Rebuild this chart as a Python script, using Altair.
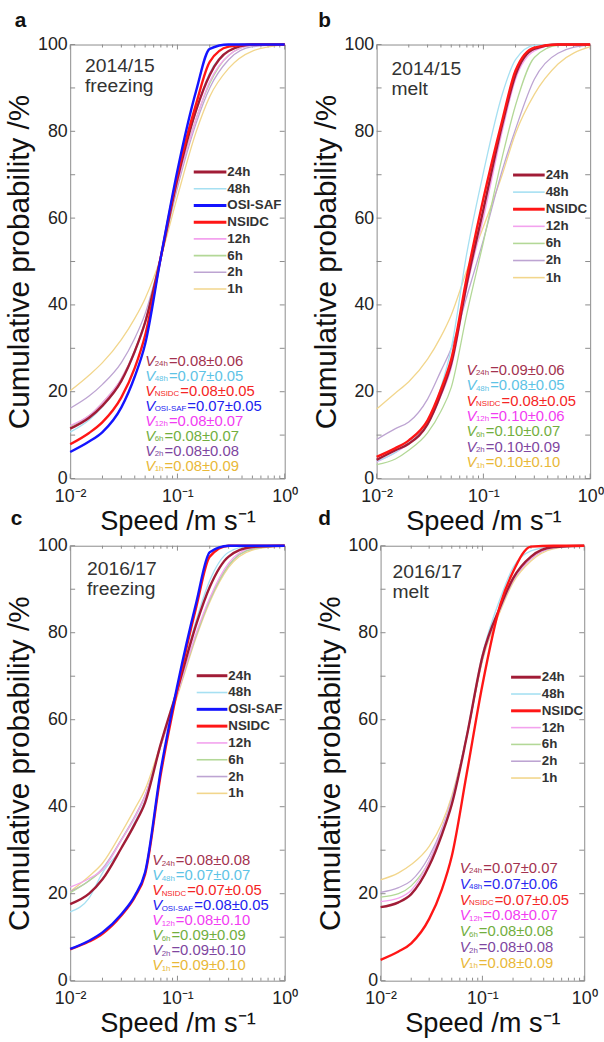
import altair as alt
import pandas as pd

FONT = "Liberation Sans"
TICK = "#8c8c8c"

speeds = [0.01, 0.015, 0.02, 0.03, 0.04, 0.05, 0.07, 0.1, 0.15, 0.2, 0.3, 0.5, 1.0]

# ---- panel a: 2014/15 freezing
a_24h = [11.5, 14.0, 16.8, 22.5, 29.3, 36.0, 51, 69, 85, 93, 98.5, 100, 100]
a_48h = [10.7, 13.5, 16.5, 22.5, 29.0, 35.8, 51, 69, 85, 93.5, 98.5, 100, 100]
a_osi = [6.1, 8.5, 10.7, 16.4, 23.5, 31.0, 51, 71, 89.5, 99, 100, 100, 100]
a_nsidc = [7.9, 10.5, 13.0, 18.7, 25.5, 33.0, 51, 70, 86.5, 96, 99.5, 100, 100]
a_12h = [12.2, 14.5, 17.5, 23.0, 29.5, 36.2, 51, 68, 83, 91.5, 97.5, 99.8, 100]
a_6h = [12.0, 14.5, 17.5, 23.0, 29.5, 36.2, 51, 68, 83, 91, 97.5, 99.8, 100]
a_2h = [16.2, 19.0, 21.7, 26.7, 32.3, 38.0, 51, 67, 82, 90, 96.5, 99.5, 100]
a_1h = [20.2, 23.8, 26.7, 32.0, 36.9, 41.5, 51, 65, 80, 88, 94.5, 98.5, 100]
a_stats = ["0.08±0.06", "0.07±0.05", "0.08±0.05", "0.07±0.05",
           "0.08±0.07", "0.08±0.07", "0.08±0.08", "0.08±0.09"]

# ---- panel b: 2014/15 melt
b_24h = [4.3, 6.5, 8.0, 12.5, 19.5, 26.5, 45, 62, 81.5, 93, 99, 100, 100]
b_48h = [4.0, 6.0, 8.5, 13.0, 21.0, 30.0, 52, 70.5, 88.5, 96.5, 99.8, 100, 100]
b_nsidc = [5.0, 7.0, 8.8, 13.4, 20.5, 27.5, 46.5, 64.5, 82.5, 94, 99.3, 100, 100]
b_12h = [3.8, 6.0, 8.0, 12.5, 19.0, 25.5, 44, 60, 80, 92, 98.5, 100, 100]
b_6h = [3.2, 4.5, 6.5, 10.5, 15.5, 21.0, 38, 54.5, 74, 86, 97, 99.8, 100]
b_2h = [9.0, 11.5, 13.0, 18.3, 24.8, 30.0, 42, 55, 71, 80.5, 92, 98, 100]
b_1h = [16.0, 19.7, 22.3, 27.5, 32.7, 37.7, 48, 58, 70, 79.5, 88.5, 95.5, 99.5]
b_stats = ["0.09±0.06", "0.08±0.05", "0.08±0.05", "0.10±0.06",
           "0.10±0.07", "0.10±0.09", "0.10±0.10"]

# ---- panel c: 2016/17 freezing
c_24h = [17.6, 20.0, 23.3, 30.5, 36.0, 41.0, 54.5, 67, 82, 90.5, 97.5, 99.7, 100]
c_48h = [15.8, 19.0, 24.8, 30.5, 36.5, 41.5, 54.5, 67, 83, 92, 98.5, 100, 100]
c_osi = [7.3, 9.2, 11.1, 15.3, 19.5, 25.0, 48.5, 68, 87, 98.5, 100, 100, 100]
c_nsidc = [7.2, 9.0, 10.8, 15.0, 19.2, 24.5, 47.5, 67, 86, 97.5, 100, 100, 100]
c_12h = [21.5, 23.5, 25.5, 32.3, 37.5, 42.5, 54, 66, 80, 88, 96, 99.5, 100]
c_6h = [20.2, 23.0, 25.5, 32.3, 37.5, 42.5, 54, 66, 79.5, 87.5, 95.5, 99.3, 100]
c_2h = [20.5, 23.0, 25.8, 32.5, 37.8, 42.7, 54, 66, 79.5, 87.5, 95.5, 99.3, 100]
c_1h = [20.5, 24.0, 27.0, 34.0, 39.5, 44.0, 54.5, 65.5, 79, 87, 95, 99, 100]
c_stats = ["0.08±0.08", "0.07±0.07", "0.07±0.05", "0.08±0.05",
           "0.08±0.10", "0.09±0.09", "0.09±0.10", "0.09±0.10"]

# ---- panel d: 2016/17 melt
d_24h = [16.9, 18.0, 19.9, 26.4, 33.6, 40.5, 56, 74.5, 86, 92.5, 97.5, 99.7, 100]
d_48h = [16.9, 18.0, 20.0, 26.5, 34.0, 41.0, 56.5, 75, 88, 95, 98.8, 99.8, 100]
d_nsidc = [4.8, 6.7, 8.6, 14.2, 21.0, 28.6, 47.5, 68, 86.5, 94, 99.8, 100, 100]
d_12h = [18.2, 19.0, 20.8, 27.5, 34.7, 41.5, 56, 74, 85.5, 92, 97, 99.5, 100]
d_6h = [19.2, 20.0, 21.8, 27.5, 34.7, 41.5, 56, 74, 85.5, 92, 97, 99.5, 100]
d_2h = [20.3, 21.4, 23.0, 28.6, 35.0, 41.8, 56, 74, 85.5, 92, 97, 99.5, 100]
d_1h = [23.2, 24.8, 26.7, 30.9, 36.2, 42.5, 56, 73.5, 85, 91.5, 96.5, 99.3, 100]
d_stats = ["0.07±0.07", "0.07±0.06", "0.07±0.05", "0.08±0.07",
           "0.08±0.08", "0.08±0.08", "0.08±0.09"]

legend_full = ["24h", "48h", "OSI-SAF", "NSIDC", "12h", "6h", "2h", "1h"]
legend_short = ["24h", "48h", "NSIDC", "12h", "6h", "2h", "1h"]
stat_full = ["24h", "48h", "NSIDC", "OSI-SAF", "12h", "6h", "2h", "1h"]
stat_short = ["24h", "48h", "NSIDC", "12h", "6h", "2h", "1h"]

x_major = [0.01, 0.1, 1.0]
x_minor = [k * 10.0 ** e for e in (-2, -1) for k in range(2, 10)]
y_ticks = list(range(0, 101, 10))
y_labels = [0, 20, 40, 60, 80, 100]

line_color = {"24h": "#A11C36", "48h": "#A6E0F2", "OSI-SAF": "#1414FF",
              "NSIDC": "#FF1616", "12h": "#F3A2EE", "6h": "#B3D897",
              "2h": "#BDA4D2", "1h": "#F2D68C"}
line_width = {"24h": 2.4, "48h": 1.3, "OSI-SAF": 2.4, "NSIDC": 2.4,
              "12h": 1.3, "6h": 1.3, "2h": 1.3, "1h": 1.3}
text_color = {"24h": "#A3324F", "48h": "#5EC3E6", "NSIDC": "#F52525",
              "OSI-SAF": "#2222F0", "12h": "#F23CF2", "6h": "#72AE3E",
              "2h": "#7E46A0", "1h": "#E9B838"}
draw_order = ["1h", "2h", "6h", "12h", "48h", "24h", "NSIDC", "OSI-SAF"]

char_w = {"0": .556, "1": .556, "2": .556, "4": .556, "6": .556, "8": .556,
          "h": .556, "N": .722, "S": .667, "I": .278, "D": .722, "C": .722,
          "O": .778, "-": .333, "A": .667, "F": .611}

dummy = pd.DataFrame({"k": [0]})

XS = alt.Scale(type="log", domain=[0.01, 1], nice=False)
YS = alt.Scale(domain=[0, 100], nice=False)


def X():
    return alt.X("speed:Q", scale=XS, axis=alt.Axis(
        values=x_major, ticks=False, grid=False, domain=False,
        labelExpr="datum.value < 0.05 ? '10⁻²' : (datum.value < 0.5 ? '10⁻¹' : '10⁰')",
        labelFlush=False, labelOverlap=False, labelPadding=9.5,
        title="Speed /m s⁻¹", titlePadding=2, titleFontSize=27.5))


def Y():
    return alt.Y("cum:Q", scale=YS, axis=alt.Axis(
        values=y_labels, ticks=False, grid=False, domain=False,
        labelPadding=3, title="Cumulative probability /%",
        titlePadding=3, titleFontSize=30))


def panel(series, season, leg_names, stat_names, stats, geo, tcol, letters):
    W, H = geo["W"], geo["H"]
    layers = []
    # inward ticks
    yt = pd.DataFrame({"cum": y_ticks})
    layers.append(alt.Chart(yt).mark_rule(color=TICK, strokeWidth=1).encode(
        y=Y(), x=alt.value(0), x2=alt.value(5)))
    layers.append(alt.Chart(yt).mark_rule(color=TICK, strokeWidth=1).encode(
        y=Y(), x=alt.value(W - 5), x2=alt.value(W)))
    for vals, ln in ((x_major, 5), (x_minor, 3)):
        xt = pd.DataFrame({"speed": vals})
        layers.append(alt.Chart(xt).mark_rule(color=TICK, strokeWidth=1).encode(
            x=X(), y=alt.value(H), y2=alt.value(H - ln)))
        layers.append(alt.Chart(xt).mark_rule(color=TICK, strokeWidth=1).encode(
            x=X(), y=alt.value(0), y2=alt.value(ln)))
    # curves
    for name in draw_order:
        if name in series:
            df = pd.DataFrame({"speed": speeds, "cum": series[name]})
            layers.append(alt.Chart(df).mark_line(
                color=line_color[name], strokeWidth=line_width[name],
                interpolate="monotone").encode(x=X(), y=Y()))
    # season label
    layers.append(alt.Chart(dummy).mark_text(
        text=season, lineBreak="\n", align="left", baseline="top", fontSize=19.5,
        lineHeight=20, color="#333333", font=FONT).encode(
        x=alt.value(geo["tx"]), y=alt.value(geo["ty"])))
    # manual legend
    for i, name in enumerate(leg_names):
        yy = geo["ly0"] + i * geo["ldy"]
        lwid = 3 if line_width[name] > 2 else 1.6
        layers.append(alt.Chart(dummy).mark_rule(
            color=line_color[name], strokeWidth=lwid).encode(
            x=alt.value(geo["lx0"]), x2=alt.value(geo["lx1"]), y=alt.value(yy)))
        layers.append(alt.Chart(dummy).mark_text(
            text=name, align="left", baseline="middle", fontSize=13.5,
            fontWeight="bold", color="#333333", font=FONT).encode(
            x=alt.value(geo["lx1"] + 1), y=alt.value(yy)))
    # statistics
    for i, (name, val) in enumerate(zip(stat_names, stats)):
        yy = geo["sy0"] + i * geo["sdy"]
        col = tcol.get(name, text_color[name])
        x0 = geo["sx"]
        subw = sum(char_w.get(ch, 0.55) for ch in name) * 8
        layers.append(alt.Chart(dummy).mark_text(
            text="V", align="left", baseline="middle", fontSize=15,
            fontStyle="italic", color=col, font=FONT).encode(
            x=alt.value(x0), y=alt.value(yy)))
        layers.append(alt.Chart(dummy).mark_text(
            text=name, align="left", baseline="middle", fontSize=8,
            color=col, font=FONT).encode(
            x=alt.value(x0 + 9.5), y=alt.value(yy + 3.5)))
        layers.append(alt.Chart(dummy).mark_text(
            text="=" + val, align="left", baseline="middle", fontSize=15,
            color=col, font=FONT).encode(
            x=alt.value(x0 + 10.5 + subw), y=alt.value(yy)))
    # panel letters
    for txt, lx, ly in letters:
        layers.append(alt.Chart(dummy).mark_text(
            text=txt, align="left", baseline="alphabetic", fontSize=21,
            fontWeight="bold", color="#111111", font=FONT).encode(
            x=alt.value(lx), y=alt.value(ly)))
    return alt.layer(*layers).properties(width=W, height=H)


geo_a = dict(W=217, H=439, tx=15, ty=13, ly0=129, ldy=16.9, lx0=125, lx1=158,
             sx=76, sy0=320, sdy=15.2)
geo_b = dict(W=216, H=439, tx=15, ty=16, ly0=132, ldy=17.3, lx0=138, lx1=170,
             sx=91, sy0=329, sdy=15.6)
geo_c = dict(W=217, H=440, tx=17, ty=15, ly0=131.5, ldy=17, lx0=128, lx1=159,
             sx=83, sy0=318, sdy=15.2)
geo_d = dict(W=206, H=440, tx=12, ty=18, ly0=133, ldy=17, lx0=132, lx1=162,
             sx=80, sy0=326, sdy=16)

pa = panel({"24h": a_24h, "48h": a_48h, "OSI-SAF": a_osi, "NSIDC": a_nsidc,
            "12h": a_12h, "6h": a_6h, "2h": a_2h, "1h": a_1h},
           "2014/15\nfreezing", legend_full, stat_full, a_stats, geo_a, {},
           [("a", -56, -18), ("c", -60, 486)])
pb = panel({"24h": b_24h, "48h": b_48h, "NSIDC": b_nsidc,
            "12h": b_12h, "6h": b_6h, "2h": b_2h, "1h": b_1h},
           "2014/15\nmelt", legend_short, stat_short, b_stats, geo_b, {},
           [("b", -59, -18), ("d", -59, 486)])
pc = panel({"24h": c_24h, "48h": c_48h, "OSI-SAF": c_osi, "NSIDC": c_nsidc,
            "12h": c_12h, "6h": c_6h, "2h": c_2h, "1h": c_1h},
           "2016/17\nfreezing", legend_full, stat_full, c_stats, geo_c, {}, [])
pd_ = panel({"24h": d_24h, "48h": d_48h, "NSIDC": d_nsidc,
             "12h": d_12h, "6h": d_6h, "2h": d_2h, "1h": d_1h},
            "2016/17\nmelt", legend_short, stat_short, d_stats, geo_d,
            {"48h": "#2A2AF0"}, [])

top = alt.hconcat(pa, pb, spacing=12)
bottom = alt.hconcat(pc, pd_, spacing=16)
chart = alt.vconcat(top, bottom, spacing=0).properties(
    padding={"left": 4, "top": 3, "right": 0, "bottom": 0},
    background="white",
).configure_view(stroke="#8c8c8c", strokeWidth=1).configure_axis(
    labelFont=FONT, labelFontSize=18, labelColor="#222222",
    titleFont=FONT, titleFontWeight="normal", titleColor="#111111",
)

chart.save("out.html", embed_options={"renderer": "svg", "actions": False})
